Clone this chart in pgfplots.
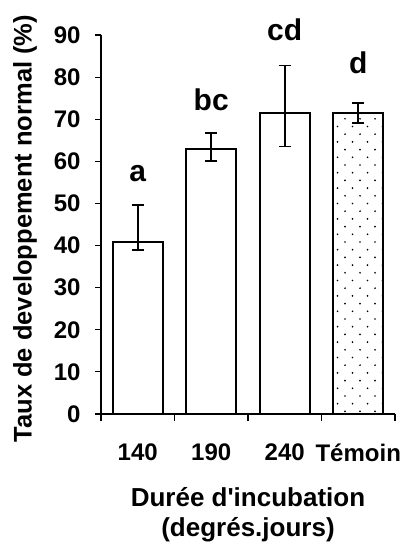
\documentclass[border=0pt]{standalone}
\usepackage{fontspec}
\setmainfont{Liberation Sans}
\usepackage{pgfplots}
\usepackage{pgfplotstable}
\pgfplotsset{compat=1.18}
\usetikzlibrary{patterns}
\pgfdeclarepatternformonly{sparsedots}{\pgfqpoint{-1pt}{-1pt}}{\pgfqpoint{16pt}{16pt}}{\pgfqpoint{15pt}{15.4pt}}{%
  \pgfpathcircle{\pgfqpoint{0pt}{0pt}}{0.95pt}%
  \pgfpathcircle{\pgfqpoint{7.5pt}{7.7pt}}{0.95pt}%
  \pgfusepath{fill}}

\pgfplotstableread{
x y ep em
1 40.8 8.8 1.9
2 62.9 3.8 2.8
3 71.5 11.3 8.0
}\bars
\pgfplotstableread{
x y ep em
4 71.5 2.3 2.4
}\temoin

\newcommand{\tickfont}{\fontsize{24}{28}\selectfont\bfseries}
\newcommand{\letfont}{\fontsize{30}{34}\selectfont\bfseries}

\begin{document}
\begin{tikzpicture}
\begin{axis}[
  at={(0,0)}, anchor=south west,
  scale only axis, width=294pt, height=379pt,
  xmin=0.5, xmax=4.5, ymin=0, ymax=90,
  axis x line=bottom, axis y line=left,
  axis line style={-, line width=1.2pt, black},
  clip=false,
  tick align=outside,
  ytick={0,10,...,90},
  ytick style={line width=1.2pt, black},
  major tick length=6pt,
  xtick={1,2,3,4},
  xticklabels={140,190,240,Témoin},
  major x tick style={draw=none},
  extra x ticks={0.5,1.5,2.5,3.5,4.5},
  extra x tick labels={},
  extra x tick style={major x tick style={draw=black, line width=1.2pt}, major tick length=7pt},
  /pgf/number format/assume math mode=true,
  yticklabel style={xshift=-11pt, font=\tickfont},
  xticklabel style={yshift=-20pt, font=\tickfont},
  ylabel={Taux de developpement normal (\%)},
  ylabel style={at={(axis description cs:-0.2585,0.489)}, anchor=center, font=\fontsize{25.5}{30}\selectfont\bfseries},
  xlabel={Durée d\textquotesingle incubation\\(degrés.jours)},
  xlabel style={at={(axis description cs:0.5,-0.2665)}, anchor=center, align=center, font=\fontsize{26}{30}\selectfont\bfseries},
  ybar, bar width=50pt, bar shift=0pt,
]
\addplot[draw=black, line width=1.8pt, fill=white,
  error bars/.cd, y dir=both, y explicit,
  error bar style={line width=1.6pt, black},
  error mark options={rotate=90, mark size=6pt, line width=1.6pt, black}]
  table[x=x, y=y, y error plus=ep, y error minus=em] {\bars};
\addplot[draw=black, line width=1.8pt, pattern=sparsedots, pattern color=black,
  error bars/.cd, y dir=both, y explicit,
  error bar style={line width=1.6pt, black},
  error mark options={rotate=90, mark size=6pt, line width=1.6pt, black}]
  table[x=x, y=y, y error plus=ep, y error minus=em] {\temoin};
\node[font=\letfont] at (axis cs:1,57.0) {a};
\node[font=\letfont] at (axis cs:2,74.6) {bc};
\node[font=\letfont] at (axis cs:3,91.2) {cd};
\node[font=\letfont] at (axis cs:4,83.5) {d};
\end{axis}
\pgfresetboundingbox
\path (-101pt,-136pt) rectangle (306pt,414pt);
\end{tikzpicture}
\end{document}
